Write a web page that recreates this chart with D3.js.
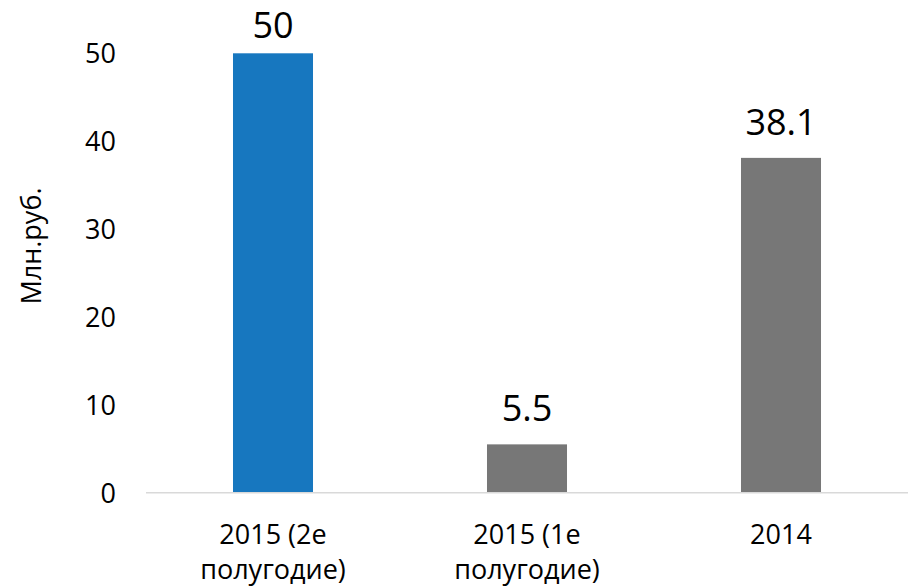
<!DOCTYPE html>
<html>
<head>
<meta charset="utf-8">
<script src="https://cdn.jsdelivr.net/npm/d3@7"></script>
<style>
    body { margin: 0; background: #fff; }
    text { font-family: "Open Sans", sans-serif; fill: #000; }
</style>
</head>
<body>
<div id="bar-chart"></div>
<script>
// chart values
const categories = [["2015 (2e", "полугодие)"], ["2015 (1e", "полугодие)"], ["2014"]]
const values = [50, 5.5, 38.1]
const barColors = ["#1777bf", "#777777", "#777777"]
const yTicks = [0, 10, 20, 30, 40, 50]
const yTitle = "Млн.руб."

const drawBarChart = () => {
    var width = 912,
        height = 587;
    const margin = ({ top: 53.3, right: 4, bottom: 94.3, left: 146 })

    var svg = d3.select("#bar-chart").append("svg")
        .attr("width", width)
        .attr("height", height)

    const x = d3.scaleBand()
        .domain(d3.range(values.length))
        .range([margin.left, width - margin.right])
        .paddingInner(0.685)
        .paddingOuter(0.3425)

    const y = d3.scaleLinear()
        .domain([0, 50])
        .range([height - margin.bottom, margin.top])

    // y axis, labels only
    const yAxis = g => g
        .attr("transform", `translate(${margin.left - 30},0)`)
        .call(d3.axisLeft(y).tickValues(yTicks).tickSize(0).tickPadding(0))
        .call(g => g.selectAll(".domain").remove())
        .call(g => g.selectAll(".tick text")
            .style("font-size", "27px")
            .attr("font-family", null)
            .attr("dy", "0.35em"))

    svg.append("g").call(yAxis)

    // bars
    svg.append("g")
        .selectAll("rect")
        .data(values)
        .join("rect")
        .attr("x", (d, i) => x(i))
        .attr("y", d => y(d))
        .attr("width", x.bandwidth())
        .attr("height", d => y(0) - y(d))
        .attr("fill", (d, i) => barColors[i])

    // baseline
    svg.append("line")
        .attr("x1", margin.left)
        .attr("x2", width - margin.right)
        .attr("y1", y(0))
        .attr("y2", y(0))
        .attr("stroke", "#d9d9d9")
        .attr("stroke-width", 1.5)

    // data labels (top one pushed down to stay inside)
    svg.append("g")
        .selectAll("text")
        .data(values)
        .join("text")
        .attr("x", (d, i) => x(i) + x.bandwidth() / 2)
        .attr("y", d => Math.max(y(d) - 23, 38))
        .attr("text-anchor", "middle")
        .style("font-size", "36px")
        .text(d => d)

    // category labels
    svg.append("g")
        .selectAll("text")
        .data(categories)
        .join("text")
        .attr("x", (d, i) => x(i) + x.bandwidth() / 2)
        .attr("y", y(0) + 51)
        .attr("text-anchor", "middle")
        .style("font-size", "27px")
        .selectAll("tspan")
        .data(d => d)
        .join("tspan")
        .attr("x", function () { return d3.select(this.parentNode).attr("x") })
        .attr("dy", (d, i) => i ? 35 : 0)
        .text(d => d)

    // y title
    svg.append("text")
        .attr("transform", `translate(41,${(y(0) + y(50)) / 2 - 27}) rotate(-90)`)
        .attr("text-anchor", "middle")
        .style("font-size", "27px")
        .text(yTitle)
}

drawBarChart()
</script>
</body>
</html>
